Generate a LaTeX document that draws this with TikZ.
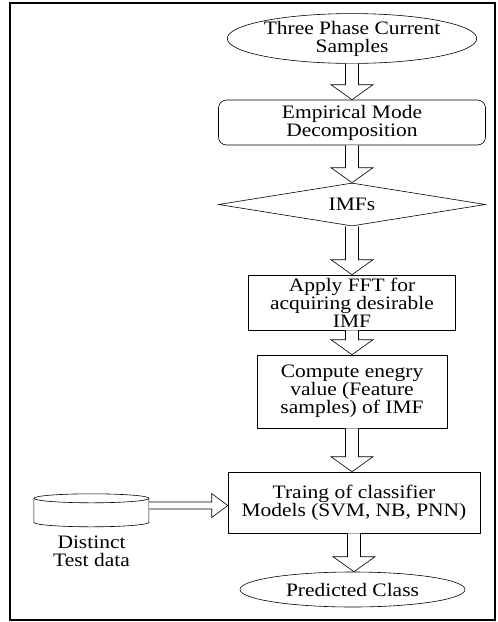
\documentclass[tikz,border=0pt]{standalone}
\usepackage{fontspec}
\setmainfont{Liberation Serif}[FakeStretch=1.13]
\usetikzlibrary{shapes.geometric,calc}
\tikzset{
  txt/.style={align=center, inner sep=0pt, font=\fontsize{19}{18}\selectfont},
  base/.style={txt, draw, line width=0.6pt},
  ell/.style={base, ellipse},
  rbox/.style={base, rectangle, rounded corners=8pt},
  sbox/.style={base, rectangle},
  dia/.style={base, diamond, aspect=6},
  barrow/.style={draw, line width=0.6pt, fill=white},
  frame/.style={draw, line width=1.3pt},
  thin/.style={draw, line width=0.6pt}
}
\newcommand{\downarrowblk}[2]{%
  \path[barrow] let \p1=(#1.south), \p2=(#2.north) in
    (\x1-6.5pt,\y1) -- (\x1-6.5pt,\y2+15pt) -- (\x1-21pt,\y2+15pt) -- (\x1,\y2)
    -- (\x1+21pt,\y2+15pt) -- (\x1+6.5pt,\y2+15pt) -- (\x1+6.5pt,\y1);}
\begin{document}
\begin{tikzpicture}[x=1pt,y=-1pt]
\useasboundingbox (0,0) rectangle (498,622);
\path[frame] (10,3) rectangle (495,620);

\node[ell, minimum width=224pt, minimum height=46pt] (ell1) at (352,38.5) {Three Phase Current\\Samples};
\node[rbox, minimum width=267pt, minimum height=45pt] (emd) at (352,122.5) {Empirical Mode\\Decomposition};
\node[dia, minimum width=267pt, minimum height=43pt] (imf) at (352,204.5) {IMFs};
\node[sbox, minimum width=207pt, minimum height=55pt] (fft) at (352,302.5) {Apply FFT for\\acquiring desirable\\IMF};
\node[sbox, minimum width=190pt, minimum height=73pt] (comp) at (352,391.5) {Compute enegry\\value (Feature\\samples) of IMF};
\node[sbox, minimum width=252pt, minimum height=61pt] (train) at (354,502.5) {Traing of classifier\\Models (SVM, NB, PNN)};
\node[ell, minimum width=225pt, minimum height=35pt] (pred) at (352.5,589.5) {Predicted Class};

% cylinder (database)
\node[minimum width=115pt, minimum height=33pt, inner sep=0pt] (cyl) at (91.5,510.5) {};
\path[thin] (cyl.north west) ++(0,4.5) -- ++(0,24)
   arc[start angle=180, end angle=360, x radius=57.5pt, y radius=4.5pt] -- ++(0,-24);
\path[thin] ($(cyl.north)+(0,4.5)$) ellipse[x radius=57.5pt, y radius=4.5pt];
\node[txt] (cyltext) at (91.5,551.5) {Distinct\\Test data};

\downarrowblk{ell1}{emd}
\downarrowblk{emd}{imf}
\downarrowblk{imf}{fft}
\downarrowblk{fft}{comp}
\downarrowblk{comp}{train}
\downarrowblk{train}{pred}

\path[barrow] let \p1=($(cyl.east)+(0,-5)$), \p2=(train.west) in
  (\x1,\y1+3.5pt) -- (\x2-16pt,\y1+3.5pt) -- (\x2-16pt,\y1+12pt) -- (\x2,\y1)
  -- (\x2-16pt,\y1-12pt) -- (\x2-16pt,\y1-3.5pt) -- (\x1,\y1-3.5pt);
\end{tikzpicture}
\end{document}
